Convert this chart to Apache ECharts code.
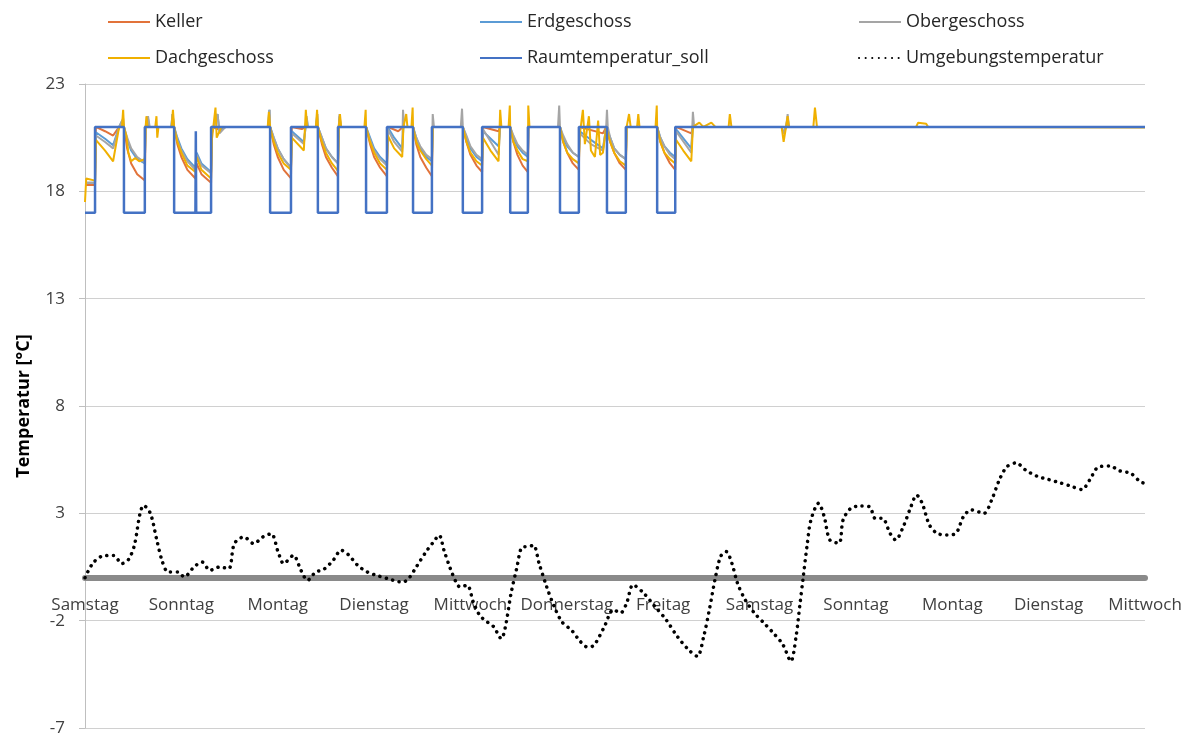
<!DOCTYPE html>
<html><head><meta charset="utf-8">
<script src="https://cdn.jsdelivr.net/npm/echarts@6/dist/echarts.min.js"></script>
<style>html,body{margin:0;padding:0;background:#fff}#c{width:1187px;height:735px}</style>
</head><body><div id="c"></div>
<script>
// x in hours since first Samstag 00:00 (24 h per day), y in °C
const dayLabels = ['Samstag','Sonntag','Montag','Dienstag','Mittwoch','Donnerstag','Freitag','Samstag','Sonntag','Montag','Dienstag','Mittwoch'];
const yTicks = [-7, -2, 3, 8, 13, 18, 23];
const seriesNames = ['Keller','Erdgeschoss','Obergeschoss','Dachgeschoss','Raumtemperatur_soll','Umgebungstemperatur'];

const keller = [
[0,18.3],[2.5,18.3],[2.7,21.0],[5,20.8],[7,20.6],[8.5,21.0],[9.7,21.0],
[10.5,20.0],[11.5,19.3],[13,18.8],[14.9,18.5],[15.1,21.0],
[22.2,21.0],[23,20.2],[24,19.6],[25.5,19.0],[27.5,18.6],[27.8,19.3],[29,18.8],[31.4,18.4],
[31.6,21.0],[33,20.9],[35,21.0],
[46.1,21.0],[47,20.2],[48,19.6],[49.5,19.0],[51.3,18.6],
[51.5,21.0],[54,20.9],[55,21.0],
[58,21.0],[59,20.2],[60,19.6],[61.5,19.1],[63,18.7],[63.2,21.0],
[70,21.0],[71,20.2],[72,19.6],[73.5,19.1],[75.2,18.7],
[75.4,21.0],[78,20.8],[79.2,21.0],
[81.7,21.0],[82.5,20.2],[83.5,19.6],[85,19.1],[86.4,18.7],[86.6,21.0],
[94.1,21.0],[95,20.3],[96,19.7],[97.5,19.2],[98.9,18.9],
[99.1,21.0],[103,20.8],[103.4,21.0],
[105.9,21.0],[106.7,20.3],[107.7,19.7],[109,19.2],[110.3,18.9],[110.5,21.0],
[118.3,21.0],[119.1,20.3],[120.1,19.8],[121.5,19.3],[123,19.0],
[123.2,21.0],[129,20.7],[129.8,21.0],
[130,21.0],[130.8,20.3],[131.8,19.8],[133.2,19.3],[134.7,19.0],[134.9,21.0],
[142.5,21.0],[143.3,20.3],[144.3,19.8],[145.7,19.3],[147,19.0],
[147.2,21.0],[151,20.7],[151.4,21.0],
[264,21.0]
];

const erdgeschoss = [
[0,18.4],[2.5,18.4],[2.7,20.75],[5,20.45],[7,20.15],[8.5,21.0],[9.3,21.3],[9.7,21.0],
[10.5,20.4],[11.5,19.9],[13,19.5],[14.9,19.3],[15.1,21.0],[15.6,21.5],[16,21.0],
[21.5,21.0],[21.8,21.6],[22.2,21.0],[23,20.5],[24,20.0],[25.5,19.5],[27.5,19.1],[27.8,19.8],[29,19.3],[31.4,18.9],
[31.6,20.8],[33,21.6],[33.5,20.8],[35,21.0],
[45.6,21.0],[45.9,21.8],[46.1,21.0],[47,20.5],[48,20.0],[49.5,19.5],[51.3,19.1],
[51.5,20.8],[54.5,20.3],[55.2,21.4],[55.5,21.0],
[57.5,21.0],[57.8,21.5],[58,21.0],[59,20.5],[60,20.0],[61.5,19.6],[63,19.3],[63.2,21.0],[63.4,21.5],[63.7,21.0],
[70,21.0],[71,20.5],[72,20.0],[73.5,19.6],[75.2,19.3],
[75.4,21.0],[77,20.5],[79,20.0],[79.3,21.0],
[81.7,21.0],[82.5,20.5],[83.5,20.0],[85,19.6],[86.4,19.4],[86.6,21.0],
[94.1,21.0],[95,20.5],[96,20.0],[97.5,19.6],[98.9,19.4],
[99.1,20.8],[103,20.1],[103.4,21.0],
[105.9,21.0],[106.7,20.5],[107.7,20.1],[109,19.8],[110.3,19.6],[110.5,21.0],
[118.3,21.0],[119.1,20.5],[120.1,20.1],[121.5,19.8],[123,19.6],
[123.2,20.8],[126,20.4],[129,20.0],[129.8,21.0],
[130,21.0],[130.8,20.5],[131.8,20.0],[133.2,19.7],[134.7,19.5],[134.9,21.0],
[142.5,21.0],[143.3,20.5],[144.3,20.1],[145.7,19.8],[147,19.6],
[147.2,20.9],[151,20.0],[151.4,21.0],
[173.5,21.0],[174,20.7],[174.6,21.0],[175,21.4],[175.3,21.0],
[264,21.0]
];

const obergeschoss = [
[0,18.4],[2.5,18.4],[2.7,20.6],[5,20.3],[7,20.0],[8.5,21.0],[9.5,21.4],[9.7,21.0],
[10.5,20.5],[11.5,20.0],[13,19.6],[14.9,19.35],[15.1,21.0],[15.7,21.5],[16.1,21.0],
[21.5,21.0],[21.8,21.6],[22.2,21.0],[23,20.4],[24,19.9],[25.5,19.4],[27.5,19.0],[27.8,19.7],[29,19.2],[31.4,18.85],
[31.6,20.7],[33,21.6],[33.5,20.7],[35,21.0],
[45.7,21.0],[46,21.8],[46.1,21.0],[47,20.5],[48,20.0],[49.5,19.5],[51.3,19.1],
[51.5,20.7],[54.5,20.2],[55.2,21.5],[55.5,21.0],
[57.6,21.0],[57.9,21.6],[58,21.0],[59,20.5],[60,20.0],[61.5,19.6],[63,19.3],[63.2,21.0],[63.4,21.6],[63.7,21.0],
[70,21.0],[71,20.4],[72,19.9],[73.5,19.5],[75.2,19.2],
[75.4,20.9],[77,20.3],[79,19.85],[79.2,21.8],[79.5,21.0],
[81.7,21.0],[82.5,20.5],[83.5,20.1],[85,19.7],[86.4,19.5],[86.6,21.6],[86.9,21.0],
[93.6,21.0],[93.9,21.85],[94.1,21.0],[95,20.6],[96,20.1],[97.5,19.7],[98.9,19.5],
[99.1,20.9],[103,19.7],[103.4,21.0],
[105.9,21.0],[106.7,20.6],[107.7,20.2],[109,19.9],[110.3,19.7],[110.5,21.0],
[117.8,21.0],[118.1,22.0],[118.3,21.0],[119.1,20.6],[120.1,20.2],[121.5,19.8],[123,19.6],
[123.2,20.7],[126,20.2],[129,19.9],[129.8,21.0],[130,21.8],
[130.2,21.0],[130.8,20.5],[131.8,20.0],[133.2,19.7],[134.7,19.5],[134.9,21.0],
[142.5,21.0],[143.3,20.5],[144.3,20.1],[145.7,19.7],[147,19.5],
[147.2,20.8],[151,19.8],[151.4,21.7],[151.7,21.0],
[173.5,21.0],[174,20.7],[174.6,21.0],[175,21.6],[175.3,21.0],
[264,21.0]
];

const dachgeschoss = [
[0,17.5],[0.3,18.6],[2.5,18.5],[2.7,20.4],[5,19.9],[7,19.4],[8.5,21.0],[9.2,21.0],[9.5,21.8],[9.7,21.0],
[10.3,20.6],[10.8,19.8],[11.5,19.4],[12.5,19.55],[13.5,19.4],[14.9,19.5],[15.1,21.0],[15.3,21.5],[15.6,21.0],
[17.5,21.0],[17.8,21.5],[18,20.5],[18.3,21.0],
[21.6,21.0],[21.9,21.8],[22.2,21.0],[23,20.3],[24,19.8],[25.5,19.2],[27.5,18.9],[27.8,19.6],[29,19.0],[31.4,18.6],
[31.6,20.4],[32.5,21.9],[32.8,20.5],[34,21.0],
[45.5,21.0],[45.8,21.7],[46.1,21.0],[47,20.3],[48,19.8],[49.5,19.3],[51.3,19.0],
[51.5,20.5],[54.5,19.9],[55,21.8],[55.3,21.0],[57.5,21.0],
[57.8,21.8],[58,21.0],[59,20.3],[60,19.8],[61.5,19.3],[63,18.95],[63.2,21.0],[63.5,21.6],[63.8,21.0],
[69.6,21.0],[69.9,21.8],[70,21.0],[71,20.3],[72,19.8],[73.5,19.3],[75.2,19.0],
[75.4,20.6],[77,20.0],[79,19.6],[79.3,21.0],[80,21.6],[80.3,21.0],
[81.3,21.0],[81.6,21.9],[81.7,21.0],[82.5,20.3],[83.5,19.9],[85,19.5],[86.4,19.2],[86.6,21.0],
[94.1,21.0],[95,20.3],[96,19.8],[97.5,19.4],[98.9,19.2],
[99.1,20.5],[101,19.9],[103,19.4],[103.4,21.8],[103.7,21.0],
[105.5,21.0],[105.8,22.0],[105.9,21.0],[106.7,20.3],[107.7,19.9],[109,19.5],[110.3,19.4],[110.4,22.0],[110.7,21.0],
[118.3,21.0],[119.1,20.3],[120.1,19.8],[121.5,19.5],[123,19.3],
[123.2,20.6],[124,21.8],[124.5,20.2],[125.5,21.5],[126,19.9],[127,19.6],[127.8,21.3],[128.3,19.7],[129,19.8],[129.8,21.0],
[130,21.0],[130.8,20.3],[131.8,19.8],[133.2,19.4],[134.7,19.2],[134.9,21.0],[135.5,21.6],[135.9,21.0],[137.5,21.0],[137.8,21.6],[138.1,21.0],
[142.1,21.0],[142.4,22.0],[142.5,21.0],[143.3,20.3],[144.3,19.8],[145.7,19.5],[147,19.3],
[147.2,20.4],[149,19.9],[151,19.4],[151.4,21.0],
[153,21.2],[154,21.0],[156,21.2],[157,21.0],[160.3,21.0],[160.6,21.6],[161,21.0],
[173.5,21.0],[174,20.3],[174.6,21.0],[175,21.5],[175.3,21.0],
[181.4,21.0],[181.8,21.9],[182.3,21.0],
[207,21.0],[207.5,21.2],[209.5,21.15],[210,21.0],
[264,20.97]
];

const raumSoll = [
[0,17],[2.5,17],[2.5,21],[9.7,21],[9.7,17],[14.9,17],[14.9,21],[22.2,21],[22.2,17],
[27.5,17],[27.6,20.8],[27.7,17],[31.4,17],[31.4,21],[46.1,21],[46.1,17],[51.3,17],[51.3,21],
[58,21],[58,17],[63,17],[63,21],[70,21],[70,17],[75.2,17],[75.2,21],[81.7,21],[81.7,17],
[86.4,17],[86.4,21],[94.1,21],[94.1,17],[98.9,17],[98.9,21],[105.9,21],[105.9,17],[110.3,17],
[110.3,21],[118.3,21],[118.3,17],[123,17],[123,21],[130,21],[130,17],[134.7,17],[134.7,21],
[142.5,21],[142.5,17],[147,17],[147,21],[264,21]
];

const umgebung = [
[0,0.0],[1.9,0.66],[4.2,1.0],[7.1,1.04],[9.2,0.66],[10.8,0.84],[12.3,1.51],[13.7,2.99],[14.6,3.37],[16.3,2.99],
[17.9,1.74],[19.3,0.73],[20.7,0.27],[23.1,0.27],[24.7,0.04],[27.3,0.53],[29.2,0.73],[31.1,0.34],[33.5,0.5],
[35.8,0.42],[37.2,1.59],[39.6,1.9],[42.0,1.59],[44.3,1.9],[46.4,2.05],[48.1,1.2],[49.5,0.66],[51.9,1.04],
[53.8,0.34],[55.4,-0.12],[57.5,0.27],[59.4,0.38],[61.8,0.81],[63.8,1.28],[65.5,1.09],[67.9,0.58],[70.3,0.27],
[72.6,0.11],[75.4,-0.04],[77.8,-0.17],[79.2,-0.2],[80.6,-0.04],[82.5,0.5],[84.9,1.2],[86.8,1.67],[88.2,1.98],
[89.4,1.28],[91.0,0.42],[92.4,-0.2],[93.4,-0.43],[95.2,-0.35],[96.7,-1.13],[98.3,-1.75],[100.2,-2.06],
[101.8,-2.29],[103.7,-2.84],[104.7,-2.29],[106.1,-0.74],[107.5,0.42],[108.9,1.43],[110.3,1.45],[111.7,1.51],
[113.1,0.66],[115.0,-0.43],[116.9,-1.36],[118.8,-2.06],[121.2,-2.45],[123.1,-2.91],[125.0,-3.22],[126.4,-3.19],
[129.2,-2.34],[131.6,-1.49],[133.4,-1.64],[134.9,-1.18],[136.5,-0.33],[139.1,-0.71],[141.9,-1.33],[144.7,-1.95],
[147.5,-2.73],[150.3,-3.35],[152.5,-3.66],[154.1,-2.73],[155.5,-1.49],[156.9,-0.09],[158.3,0.99],[159.7,1.22],
[161.1,0.68],[162.5,-0.25],[164.4,-1.02],[166.7,-1.64],[169.1,-2.11],[171.4,-2.57],[173.8,-3.11],[175.8,-3.89],
[177.1,-2.73],[178.0,-1.33],[178.9,0.06],[179.8,1.45],[180.8,2.69],[182.7,3.47],[184.1,2.85],[185.5,1.76],
[187.8,1.61],[188.8,2.69],[190.7,3.23],[193.0,3.34],[195.4,3.31],[196.8,2.77],[198.6,2.77],[200.5,2.07],
[201.9,1.76],[203.8,2.38],[205.7,3.31],[207.1,3.85],[208.5,3.47],[210.3,2.46],[212.2,2.07],[214.6,1.99],
[216.9,2.07],[218.8,2.85],[220.7,3.16],[223.9,3.0],[225.8,3.62],[227.7,4.55],[229.6,5.17],[231.9,5.35],
[234.3,5.01],[237.1,4.73],[239.9,4.58],[242.7,4.43],[245.5,4.27],[248.3,4.11],[250.2,4.55],[252.5,5.17],
[255.3,5.2],[257.7,4.98],[260.5,4.86],[262.8,4.47],[264,4.4]
];

const colors = ['#E2733A','#5B9BD5','#A5A5A5','#F0B000','#4472C4','#000000'];
const FONT = 'Open Sans';

const GRID_TOP = 84, GRID_BOTTOM = 7, CHART_H = 735;
const plotH = CHART_H - GRID_TOP - GRID_BOTTOM;
// shift the category axis (line + labels) up to the 0 °C level, as in the original
const zeroOffset = -(0 - yTicks[0]) / (yTicks[yTicks.length - 1] - yTicks[0]) * plotH;

const chart = echarts.init(document.getElementById('c'), null, {renderer: 'canvas'});

function legendCol(left, names) {
  return {
    orient: 'vertical', left: left, top: 7,
    data: names,
    itemWidth: 42, itemHeight: 14, itemGap: 16,
    itemStyle: {opacity: 0},
    textStyle: {fontFamily: FONT, fontSize: 18, color: '#262626', lineHeight: 20},
    selectedMode: false
  };
}

function lineSeries(i, data, extra) {
  return Object.assign({
    name: seriesNames[i], type: 'line', data: data, symbol: 'none', showSymbol: false,
    animation: false, color: colors[i],
    lineStyle: {color: colors[i], width: 2},
    z: 2 + i
  }, extra || {});
}

const xMax = 24 * (dayLabels.length - 1);

chart.setOption({
  backgroundColor: '#ffffff',
  animation: false,
  legend: [
    legendCol(102, [seriesNames[0], seriesNames[3]]),
    legendCol(474, [seriesNames[1], seriesNames[4]]),
    legendCol(853, [seriesNames[2], seriesNames[5]])
  ],
  grid: {left: 85, right: 42, top: GRID_TOP, bottom: GRID_BOTTOM, containLabel: false, outerBoundsMode: 'none'},
  xAxis: {
    type: 'value', min: 0, max: xMax, interval: 24,
    position: 'bottom', offset: zeroOffset,
    axisLine: {onZero: false, lineStyle: {color: '#8a8a8a', width: 6}},
    axisTick: {show: false},
    splitLine: {show: false},
    axisLabel: {
      formatter: function (v) { return dayLabels[Math.round(v / 24)] || ''; },
      fontFamily: FONT, fontSize: 17, color: '#404040', margin: 19,
      showMinLabel: true, showMaxLabel: true, hideOverlap: false
    }
  },
  yAxis: {
    type: 'value', min: yTicks[0], max: yTicks[yTicks.length - 1], interval: yTicks[1] - yTicks[0],
    name: 'Temperatur [°C]', nameLocation: 'middle', nameGap: 52,
    nameTextStyle: {fontFamily: FONT, fontSize: 18, fontWeight: 'bold', color: '#000'},
    axisLine: {show: true, onZero: false, lineStyle: {color: '#bfbfbf', width: 1}},
    axisTick: {show: true, length: 6, lineStyle: {color: '#bfbfbf'}},
    axisLabel: {fontFamily: FONT, fontSize: 17, color: '#404040', margin: 20},
    splitLine: {show: true, lineStyle: {color: '#d0d0d0', width: 1}}
  },
  series: [
    lineSeries(0, keller),
    lineSeries(1, erdgeschoss),
    lineSeries(2, obergeschoss),
    lineSeries(3, dachgeschoss),
    lineSeries(4, raumSoll, {lineStyle: {color: colors[4], width: 2.5}}),
    lineSeries(5, umgebung, {smooth: 0.3, lineStyle: {color: '#000', width: 3.5, type: [0.1, 6.5], cap: 'round'}})
  ]
});
</script>
</body></html>
